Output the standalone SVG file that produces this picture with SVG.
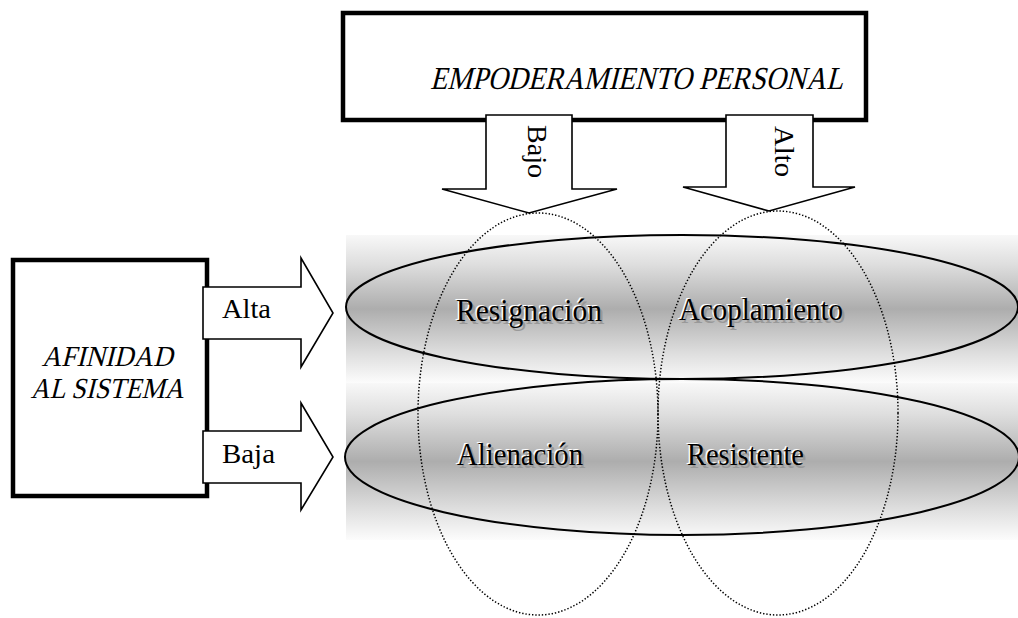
<svg xmlns="http://www.w3.org/2000/svg" xmlns:xlink="http://www.w3.org/1999/xlink" width="1018" height="618" viewBox="0 0 1018 618">
<style>
  .box{fill:#fff;stroke:#000;stroke-width:4.5}
  .arrow{fill:#fff;stroke:#000;stroke-width:1.6;stroke-linejoin:miter}
  .ell{fill:none;stroke:#000;stroke-width:2}
  .dot{fill:none;stroke:#000;stroke-width:1.5;stroke-dasharray:1.4 1.9}
  .t{font-family:"Liberation Serif","Times New Roman",serif;fill:#000}
  .lbl{font-family:"Liberation Serif","Times New Roman",serif;font-size:31px}
  .hl{fill:#fff}
  .sh{fill:#999}
  .fg{fill:#000}
</style>
<defs>
  <linearGradient id="band" x1="0" y1="0" x2="0" y2="1">
    <stop offset="0" stop-color="#f8f8f8"/>
    <stop offset="0.2" stop-color="#dedede"/>
    <stop offset="0.5" stop-color="#adadad"/>
    <stop offset="0.8" stop-color="#dedede"/>
    <stop offset="1" stop-color="#fcfcfc"/>
  </linearGradient>
  <text id="tRes" class="lbl" x="456" y="321" textLength="146" lengthAdjust="spacingAndGlyphs">Resignación</text>
  <text id="tAco" class="lbl" x="679" y="320" textLength="164" lengthAdjust="spacingAndGlyphs">Acoplamiento</text>
  <text id="tAli" class="lbl" x="457" y="465" textLength="126" lengthAdjust="spacingAndGlyphs">Alienación</text>
  <text id="tRst" class="lbl" x="687" y="465" textLength="117" lengthAdjust="spacingAndGlyphs">Resistente</text>
</defs>

<g id="background">
  <rect x="346" y="235" width="672" height="148" fill="url(#band)"/>
  <rect x="346" y="383" width="672" height="157" fill="url(#band)"/>
</g>

<g id="node-empoderamiento">
  <rect class="box" x="343" y="13" width="523" height="107"/>
  <text class="t" transform="translate(430,89) skewX(-14)" x="0" y="0" font-size="32" textLength="413" lengthAdjust="spacingAndGlyphs">EMPODERAMIENTO PERSONAL</text>
</g>

<g id="node-afinidad">
  <rect class="box" x="13" y="260" width="194" height="236"/>
  <text class="t" transform="translate(107,366) skewX(-14)" x="0" y="0" font-size="29" text-anchor="middle" textLength="131" lengthAdjust="spacingAndGlyphs">AFINIDAD</text>
  <text class="t" transform="translate(107,398) skewX(-14)" x="0" y="0" font-size="29" text-anchor="middle" textLength="153" lengthAdjust="spacingAndGlyphs">AL SISTEMA</text>
</g>

<g id="connectors">
  <g id="arrow-bajo">
    <polygon class="arrow" points="486,115 572,115 572,189 617,189 529,213 442,189 486,189"/>
    <text class="t" transform="translate(528,125) rotate(90)" font-size="28" textLength="53" lengthAdjust="spacingAndGlyphs">Bajo</text>
  </g>
  <g id="arrow-alto">
    <polygon class="arrow" points="726,115 813,115 813,187 855,187 769,211 683,187 726,187"/>
    <text class="t" transform="translate(775,126) rotate(90)" font-size="28" textLength="51" lengthAdjust="spacingAndGlyphs">Alto</text>
  </g>
  <g id="arrow-alta">
    <polygon class="arrow" points="203,287 301,287 301,258 333,313 301,367 301,339 203,339"/>
    <text class="t" x="222" y="318" font-size="27" textLength="49" lengthAdjust="spacingAndGlyphs">Alta</text>
  </g>
  <g id="arrow-baja">
    <polygon class="arrow" points="203,431 301,431 301,403 333,457 301,510 301,483 203,483"/>
    <text class="t" x="222" y="463" font-size="27" textLength="53" lengthAdjust="spacingAndGlyphs">Baja</text>
  </g>
</g>

<g id="node-alta-ellipse">
  <ellipse class="ell" cx="682" cy="307" rx="336" ry="72"/>
</g>
<g id="node-baja-ellipse">
  <ellipse class="ell" cx="682" cy="457" rx="337" ry="78"/>
</g>

<g id="node-bajo-ellipse">
  <ellipse class="dot" cx="538" cy="414" rx="120" ry="201"/>
</g>
<g id="node-alto-ellipse">
  <ellipse class="dot" cx="778" cy="413" rx="120" ry="202"/>
</g>

<g id="node-resignacion">
  <use xlink:href="#tRes" class="hl" x="-1.5" y="-1.5"/>
  <use xlink:href="#tRes" class="sh" x="2.5" y="2.5"/>
  <use xlink:href="#tRes" class="fg"/>
</g>
<g id="node-acoplamiento">
  <use xlink:href="#tAco" class="hl" x="-1.5" y="-1.5"/>
  <use xlink:href="#tAco" class="sh" x="2.5" y="2.5"/>
  <use xlink:href="#tAco" class="fg"/>
</g>
<g id="node-alienacion">
  <use xlink:href="#tAli" class="hl" x="-1.5" y="-1.5"/>
  <use xlink:href="#tAli" class="sh" x="2.5" y="2.5"/>
  <use xlink:href="#tAli" class="fg"/>
</g>
<g id="node-resistente">
  <use xlink:href="#tRst" class="hl" x="-1.5" y="-1.5"/>
  <use xlink:href="#tRst" class="sh" x="2.5" y="2.5"/>
  <use xlink:href="#tRst" class="fg"/>
</g>
</svg>
